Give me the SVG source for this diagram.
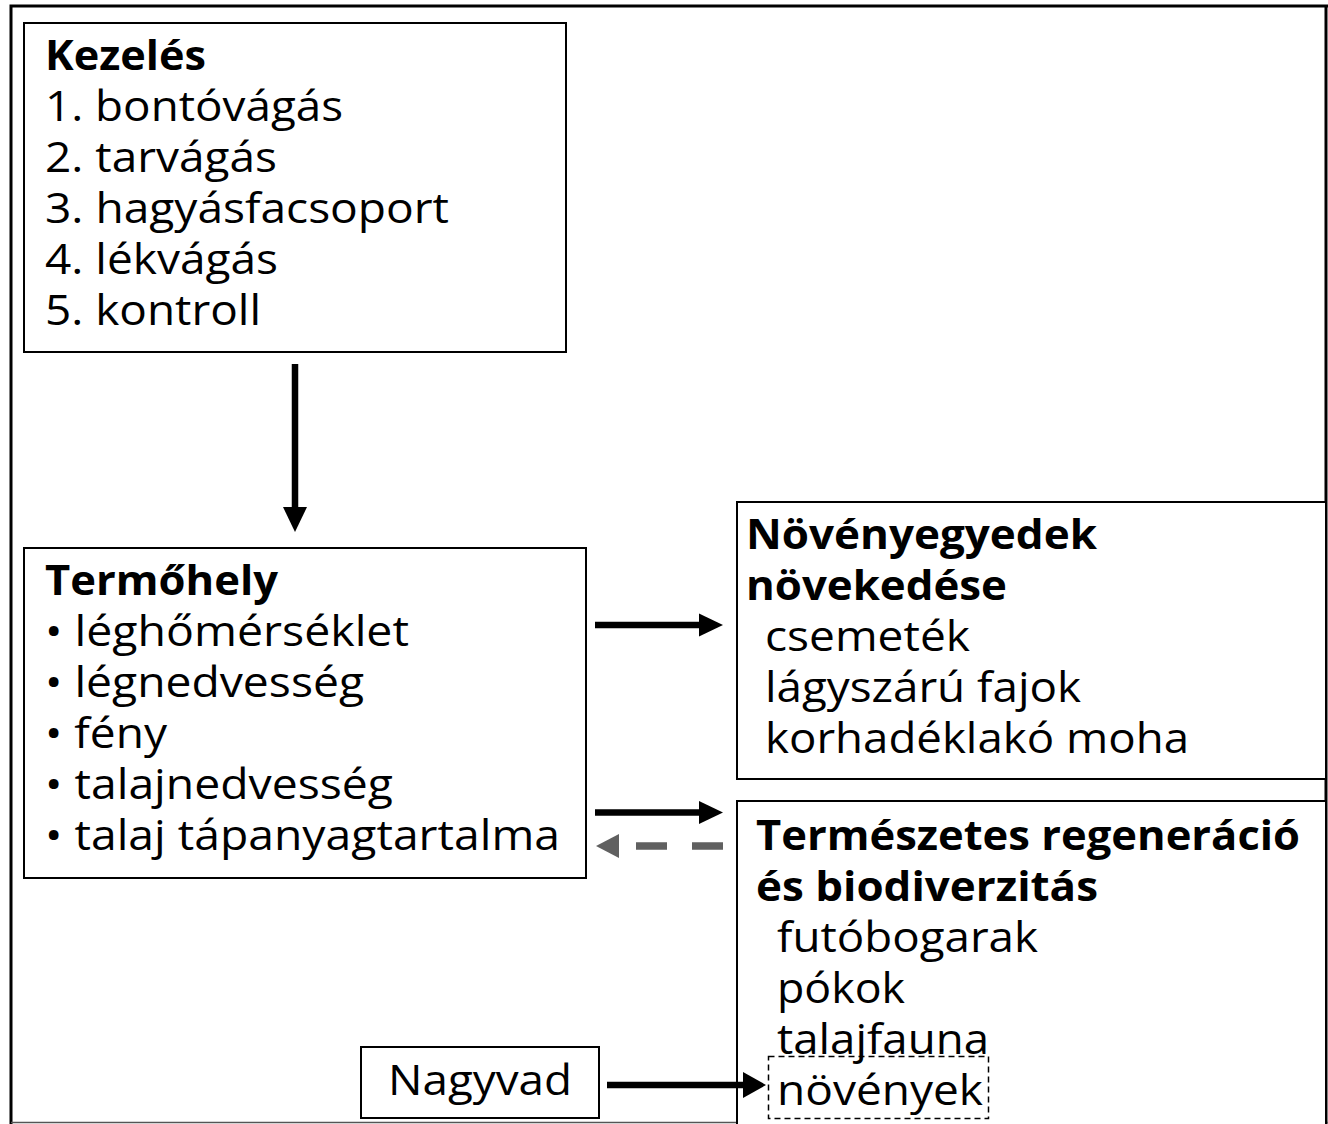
<svg xmlns="http://www.w3.org/2000/svg" width="1328" height="1124" viewBox="0 0 1328 1124">
<style>
.box{fill:#fff;stroke:#000;stroke-width:2}
text{font-family:"Open Sans","Noto Sans","Liberation Sans",sans-serif;font-size:42px;fill:#000}
.b{font-weight:bold}
.line{stroke:#000;stroke-width:6.5;fill:none}
</style>
<rect width="1328" height="1124" fill="#fff"/>
<g id="frame">
<path d="M11,1124 V6 H1328" fill="none" stroke="#000" stroke-width="3"/>
<path d="M1326,6 V1124" fill="none" stroke="#000" stroke-width="3"/>
<path d="M11,1122.5 H1328" fill="none" stroke="#555" stroke-width="1.5"/>
</g>
<g id="kezeles">
<rect class="box" x="24" y="23" width="542" height="329"/>
<text class="b" x="45" y="70" textLength="161" lengthAdjust="spacingAndGlyphs">Kezelés</text>
<text x="45" y="121" textLength="298" lengthAdjust="spacingAndGlyphs">1. bontóvágás</text>
<text x="45" y="172" textLength="232" lengthAdjust="spacingAndGlyphs">2. tarvágás</text>
<text x="45" y="223" textLength="404" lengthAdjust="spacingAndGlyphs">3. hagyásfacsoport</text>
<text x="45" y="274" textLength="233" lengthAdjust="spacingAndGlyphs">4. lékvágás</text>
<text x="45" y="325" textLength="216" lengthAdjust="spacingAndGlyphs">5. kontroll</text>
</g>
<g id="termohely">
<rect class="box" x="24" y="548" width="562" height="330"/>
<text class="b" x="45" y="595" textLength="233" lengthAdjust="spacingAndGlyphs">Termőhely</text>
<text x="45" y="646" textLength="364" lengthAdjust="spacingAndGlyphs">• léghőmérséklet</text>
<text x="45" y="697" textLength="319" lengthAdjust="spacingAndGlyphs">• légnedvesség</text>
<text x="45" y="748" textLength="122" lengthAdjust="spacingAndGlyphs">• fény</text>
<text x="45" y="799" textLength="348" lengthAdjust="spacingAndGlyphs">• talajnedvesség</text>
<text x="45" y="850" textLength="515" lengthAdjust="spacingAndGlyphs">• talaj tápanyagtartalma</text>
</g>
<g id="novenyegyedek">
<rect class="box" x="737" y="502" width="589" height="277"/>
<text class="b" x="746" y="549" textLength="351" lengthAdjust="spacingAndGlyphs">Növényegyedek</text>
<text class="b" x="746" y="600" textLength="261" lengthAdjust="spacingAndGlyphs">növekedése</text>
<text x="765" y="651" textLength="205" lengthAdjust="spacingAndGlyphs">csemeték</text>
<text x="765" y="702" textLength="316" lengthAdjust="spacingAndGlyphs">lágyszárú fajok</text>
<text x="765" y="753" textLength="424" lengthAdjust="spacingAndGlyphs">korhadéklakó moha</text>
</g>
<g id="termeszetes">
<rect class="box" x="737" y="801" width="589" height="330"/>
<text class="b" x="756" y="850" textLength="544" lengthAdjust="spacingAndGlyphs">Természetes regeneráció</text>
<text class="b" x="756" y="901" textLength="342" lengthAdjust="spacingAndGlyphs">és biodiverzitás</text>
<text x="777" y="952" textLength="261" lengthAdjust="spacingAndGlyphs">futóbogarak</text>
<text x="777" y="1003" textLength="128" lengthAdjust="spacingAndGlyphs">pókok</text>
<text x="777" y="1054" textLength="212" lengthAdjust="spacingAndGlyphs">talajfauna</text>
<text x="777" y="1105" textLength="206" lengthAdjust="spacingAndGlyphs">növények</text>
<rect x="768.5" y="1056.5" width="220" height="62" fill="none" stroke="#000" stroke-width="1.5" stroke-dasharray="6,4"/>
</g>
<g id="nagyvad">
<rect class="box" x="361" y="1047" width="238" height="71"/>
<text x="388" y="1095" textLength="184" lengthAdjust="spacingAndGlyphs">Nagyvad</text>
</g>
<g id="connectors">
<line class="line" x1="295" y1="364" x2="295" y2="508"/>
<polygon points="283,507 307,507 295,532"/>
<line class="line" x1="595" y1="625" x2="700" y2="625"/>
<polygon points="699,613.5 699,636.5 723,625"/>
<line class="line" x1="595" y1="812.5" x2="700" y2="812.5"/>
<polygon points="699,801 699,824 723,812.5"/>
<line x1="723" y1="846" x2="636" y2="846" stroke="#606060" stroke-width="7.5" stroke-dasharray="31,25"/>
<polygon points="619,834 619,858 596,846" fill="#606060"/>
<line class="line" x1="607" y1="1085" x2="745" y2="1085"/>
<polygon points="743,1072 743,1098 766,1085"/>
</g>
</svg>
